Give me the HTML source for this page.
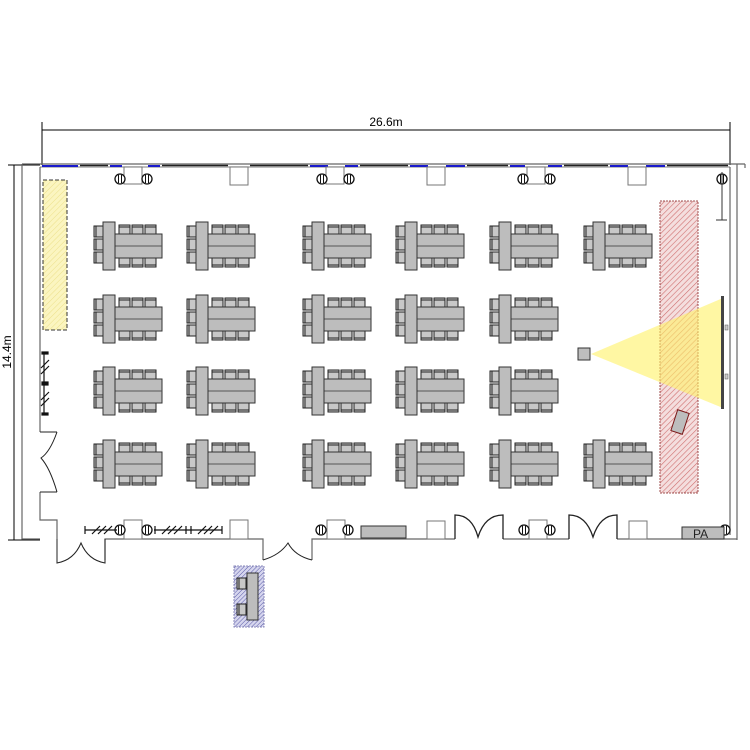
<!DOCTYPE html>
<html><head><meta charset="utf-8"><style>html,body{margin:0;padding:0;background:#fff}svg{display:block}</style></head>
<body>
<svg width="750" height="750" viewBox="0 0 750 750" xmlns="http://www.w3.org/2000/svg" font-family="Liberation Sans, sans-serif">
<defs>
<pattern id="hp" width="4" height="4" patternUnits="userSpaceOnUse" patternTransform="rotate(45)"><rect width="4" height="4" fill="#f4dede"/><line x1="0" y1="0" x2="0" y2="4" stroke="#d07070" stroke-width="1.2"/></pattern>
<pattern id="hy" width="4" height="4" patternUnits="userSpaceOnUse" patternTransform="rotate(45)"><rect width="4" height="4" fill="#fbf5c0"/><line x1="0" y1="0" x2="0" y2="4" stroke="#ece08a" stroke-width="1"/></pattern>
<pattern id="hb" width="3" height="3" patternUnits="userSpaceOnUse" patternTransform="rotate(45)"><rect width="3" height="3" fill="#d6d6ee"/><line x1="0" y1="0" x2="0" y2="3" stroke="#5a5aa8" stroke-width="1"/></pattern>
<g id="chb"><rect x="0" y="0" width="11" height="9" fill="#c8c8c8" stroke="#222" stroke-width="1"/><line x1="0" y1="7" x2="11" y2="7" stroke="#222"/></g>
<g id="cht"><rect x="0" y="0" width="11" height="9" fill="#c8c8c8" stroke="#222" stroke-width="1"/><line x1="0" y1="2" x2="11" y2="2" stroke="#222"/></g>
<g id="chl"><rect x="0" y="0" width="9" height="11" fill="#c8c8c8" stroke="#222" stroke-width="1"/><line x1="2" y1="0" x2="2" y2="11" stroke="#222"/></g>
<g id="T">
<use href="#chl" x="1" y="4"/><use href="#chl" x="1" y="17"/><use href="#chl" x="1" y="30"/>
<use href="#cht" x="26" y="3"/><use href="#cht" x="39" y="3"/><use href="#cht" x="52" y="3"/>
<use href="#chb" x="26" y="36"/><use href="#chb" x="39" y="36"/><use href="#chb" x="52" y="36"/>
<rect x="22" y="12" width="47" height="24" fill="#bdbdbd" stroke="#333"/>
<line x1="22" y1="24" x2="69" y2="24" stroke="#555"/>
<rect x="10" y="0" width="12" height="48" fill="#bdbdbd" stroke="#333"/>
</g>
<g id="P"><circle r="5" fill="#fff" stroke="#111" stroke-width="1.3"/><line x1="-1.5" y1="-4" x2="-1.5" y2="4" stroke="#111"/><line x1="1.5" y1="-4" x2="1.5" y2="4" stroke="#111"/></g>
</defs>

<line x1="42" y1="130" x2="730" y2="130" stroke="#000"/>
<line x1="42" y1="122" x2="42" y2="165" stroke="#000"/>
<line x1="730" y1="122" x2="730" y2="165" stroke="#000"/>
<text x="386" y="126" font-size="12" text-anchor="middle">26.6m</text>
<line x1="14" y1="165" x2="14" y2="540" stroke="#000"/>
<line x1="8" y1="165" x2="40" y2="165" stroke="#000"/>
<line x1="8" y1="540" x2="40" y2="540" stroke="#000"/>
<text x="0" y="0" font-size="12" text-anchor="middle" transform="translate(11,352) rotate(-90)">14.4m</text>

<rect x="43" y="180" width="24" height="150" fill="url(#hy)" stroke="#333" stroke-dasharray="4,2"/>
<rect x="660" y="201" width="38" height="292" fill="url(#hp)" stroke="#a05050" stroke-dasharray="2,1"/>
<polygon points="591,354 723,298 723,408" fill="#fff266" fill-opacity="0.6"/>
<rect x="578" y="348" width="12" height="12" fill="#bdbdbd" stroke="#333"/>
<rect x="721" y="296" width="3" height="113" fill="#444"/>
<rect x="725" y="325" width="3" height="5" fill="#ccc" stroke="#555" stroke-width=".5"/>
<rect x="725" y="374" width="3" height="5" fill="#ccc" stroke="#555" stroke-width=".5"/>
<rect x="674" y="411" width="12" height="22" fill="#bdbdbd" stroke="#7a1b1b" transform="rotate(18 680 422)"/>

<g stroke="#666" fill="none" stroke-width="1.2">
<line x1="22" y1="164" x2="745" y2="164"/>
<line x1="40" y1="167" x2="730" y2="167" stroke="#999"/>
<polyline points="22,164 22,539 40,539"/>
<polyline points="40,167 40,432"/>
<polyline points="40,492 40,520 57,520 57,539"/>
<line x1="730" y1="167" x2="730" y2="535"/>
<line x1="737" y1="164" x2="737" y2="540"/>
<line x1="745" y1="164" x2="745" y2="168"/>
<polyline points="617,539 737,539"/>
<polyline points="105,560 105,539 263,539 263,560"/>
<polyline points="312,560 312,539 455,539"/>
<line x1="503" y1="539" x2="569" y2="539"/>
</g>
<g stroke="#222" stroke-width="1.6">
<line x1="80" y1="165.5" x2="108" y2="165.5"/><line x1="162" y1="165.5" x2="228" y2="165.5"/><line x1="250" y1="165.5" x2="308" y2="165.5"/>
<line x1="360" y1="165.5" x2="408" y2="165.5"/><line x1="467" y1="165.5" x2="508" y2="165.5"/><line x1="564" y1="165.5" x2="608" y2="165.5"/><line x1="667" y1="165.5" x2="728" y2="165.5"/>
</g>
<g stroke="#1a1acc" stroke-width="2">
<line x1="42" y1="166" x2="78" y2="166"/><line x1="110" y1="166" x2="122" y2="166"/><line x1="148" y1="166" x2="160" y2="166"/>
<line x1="310" y1="166" x2="328" y2="166"/><line x1="345" y1="166" x2="358" y2="166"/><line x1="410" y1="166" x2="428" y2="166"/><line x1="446" y1="166" x2="465" y2="166"/>
<line x1="510" y1="166" x2="525" y2="166"/><line x1="548" y1="166" x2="562" y2="166"/><line x1="610" y1="166" x2="628" y2="166"/><line x1="646" y1="166" x2="665" y2="166"/>
</g>
<g fill="#fff" stroke="#777">
<rect x="124" y="167" width="18" height="17"/><rect x="230" y="167" width="18" height="18"/>
<rect x="326" y="167" width="18" height="17"/><rect x="427" y="167" width="18" height="18"/>
<rect x="527" y="167" width="18" height="17"/><rect x="628" y="167" width="18" height="18"/>
<rect x="124" y="520" width="18" height="19"/><rect x="230" y="520" width="18" height="19"/>
<rect x="327" y="520" width="18" height="19"/><rect x="427" y="521" width="18" height="18"/>
<rect x="529" y="520" width="18" height="19"/><rect x="629" y="521" width="18" height="18"/>
</g>
<use href="#P" x="120" y="179"/><use href="#P" x="147" y="179"/>
<use href="#P" x="322" y="179"/><use href="#P" x="349" y="179"/>
<use href="#P" x="523" y="179"/><use href="#P" x="550" y="179"/>
<use href="#P" x="722" y="179"/>
<use href="#P" x="120" y="530"/><use href="#P" x="147" y="530"/>
<use href="#P" x="321" y="530"/><use href="#P" x="348" y="530"/>
<use href="#P" x="524" y="530"/><use href="#P" x="550" y="530"/>
<use href="#P" x="725" y="530"/>
<line x1="722" y1="172" x2="722" y2="220" stroke="#333"/><line x1="716" y1="220" x2="727" y2="220" stroke="#333"/>

<g fill="none" stroke="#222" stroke-width="1">
<path d="M40,432 L57,432 M40,492 L57,492 M57,432 Q50,452 41,458 Q50,468 57,492"/>
<path d="M57,539 L57,563 Q74,560 81,543 Q88,560 105,563 L105,539"/>
<path d="M263,560 Q280,555 288,543 Q295,556 312,560"/>
<path d="M455,539 L455,515 Q472,515 478,537 Q485,515 503,515 L503,539" stroke-width="1.3"/>
<path d="M569,539 L569,515 Q586,515 593,537 Q600,515 617,515 L617,539" stroke-width="1.3"/>
</g>
<g stroke="#111" stroke-width="1.2" fill="none">
<line x1="44" y1="353" x2="44" y2="414"/>
<rect x="42" y="352" width="6" height="2" fill="#111"/><rect x="42" y="382" width="6" height="3" fill="#111"/><rect x="42" y="413" width="6" height="2" fill="#111"/>
<path d="M41,368 L49,360 M41,374 L49,366 M41,400 L49,392 M41,406 L49,398"/>
<line x1="85" y1="530" x2="117" y2="530"/><line x1="85" y1="526" x2="85" y2="534"/>
<path d="M92,534 L100,526 M98,534 L106,526 M104,534 L112,526"/>
<line x1="154" y1="530" x2="222" y2="530"/><line x1="155" y1="526" x2="155" y2="534"/><line x1="186" y1="526" x2="186" y2="534"/><line x1="191" y1="526" x2="191" y2="534"/><line x1="222" y1="526" x2="222" y2="534"/>
<path d="M162,534 L170,526 M168,534 L176,526 M174,534 L182,526 M198,534 L206,526 M204,534 L212,526 M210,534 L218,526"/>
</g>
<rect x="361" y="526" width="45" height="12" fill="#bdbdbd" stroke="#333"/>
<rect x="682" y="527" width="42" height="12" fill="#bdbdbd" stroke="#333"/>
<text x="693" y="538" font-size="12" fill="#222">PA</text>

<rect x="234" y="566" width="30" height="61" fill="url(#hb)" stroke="#8888bb" stroke-dasharray="2,1"/>
<rect x="247" y="573" width="11" height="47" fill="#bdbdbd" stroke="#333"/>
<use href="#chl" x="237" y="578"/><use href="#chl" x="237" y="604"/>

<use href="#T" x="93" y="222"/><use href="#T" x="186" y="222"/><use href="#T" x="302" y="222"/><use href="#T" x="395" y="222"/><use href="#T" x="489" y="222"/><use href="#T" x="583" y="222"/>
<use href="#T" x="93" y="295"/><use href="#T" x="186" y="295"/><use href="#T" x="302" y="295"/><use href="#T" x="395" y="295"/><use href="#T" x="489" y="295"/>
<use href="#T" x="93" y="367"/><use href="#T" x="186" y="367"/><use href="#T" x="302" y="367"/><use href="#T" x="395" y="367"/><use href="#T" x="489" y="367"/>
<use href="#T" x="93" y="440"/><use href="#T" x="186" y="440"/><use href="#T" x="302" y="440"/><use href="#T" x="395" y="440"/><use href="#T" x="489" y="440"/><use href="#T" x="583" y="440"/>
</svg>
</body></html>
